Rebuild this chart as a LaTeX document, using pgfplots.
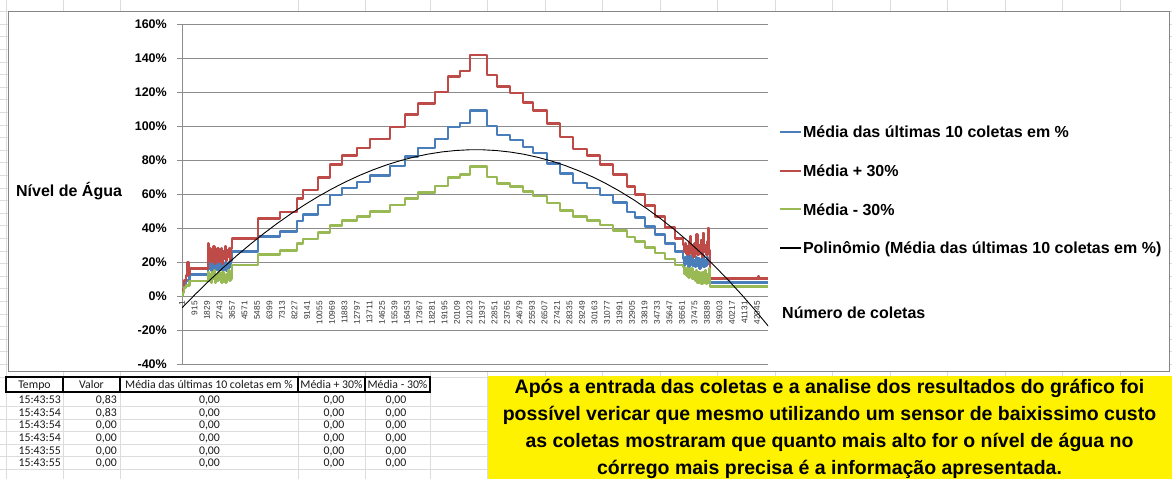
\documentclass[border=0pt]{standalone}
\usepackage{fontspec}
\setmainfont{Liberation Sans}
\newfontfamily\carlito{Carlito}
\usepackage{pgfplots}
\pgfplotsset{compat=1.18}
\usepackage{pgfplotstable}
\definecolor{sBlue}{HTML}{4A7EBB}
\definecolor{sRed}{HTML}{BE4B48}
\definecolor{sGreen}{HTML}{98B954}
\definecolor{gridc}{HTML}{8C8C8C}
\definecolor{sheet}{HTML}{DADCDD}
\definecolor{framec}{HTML}{868686}

\pgfplotstableread{
x y
1 0
80 3
150 7
300 9
560 12.5
1901 21
1970 16
2040 20
2110 15
2180 19
2250 17
2320 21
2390 15
2460 19
2530 16
2600 20
2670 15
2740 19
2810 17
2880 21
2950 15
3020 18
3090 16
3160 20
3230 15
3300 19
3370 16
3440 20
3510 17
3580 21
3656 26
5557 35
7166 38
8409 44
8848 48
9944 53.5
10822 59.4
11699 63.5
12796 67
13747 71
15209 76.5
16306 82
17256 87
18499 92.4
19450 99.4
20327 101.8
21059 109
22302 100
23033 94.7
23983 91.8
24934 87.6
25665 84
26689 78
27639 72
28590 66.5
29614 63.5
30564 59.5
31515 55
32538 49.5
33123 46
33854 41
34586 36
35317 31
36048 26
36633 22
36710 18
36790 23
36870 19
36950 24
37030 17
37110 22
37190 19
37270 24
37350 18
37430 21
37510 17
37590 23
37670 18
37750 22
37830 16
37910 21
37990 18
38070 24
38150 17
38230 21
38310 18
38390 23
38470 19
38540 22
38607 8
40000 8.4
40060 8
42850 8
}\tblue

\pgfplotstableread{
x y
1 0
80 4
150 9
300 12
420 20
470 12.5
560 16.3
1901 31
1960 24
2030 28
2100 20
2170 27
2240 22
2310 29
2380 19
2450 26
2520 23
2590 28
2660 20
2730 27
2800 22
2870 28
2940 19
3010 26
3080 22
3150 29
3220 21
3290 27
3360 23
3430 28
3500 21
3570 28
3656 33.8
5557 45.5
7166 49.4
8409 57.2
8848 62.4
9944 69.6
10822 77.2
11699 82.6
12796 87.1
13747 92.3
15209 99.5
16306 106.6
17256 113.1
18499 120.1
19450 129.2
20327 132.3
21059 141.7
22302 130
23033 123.1
23983 119.3
24934 113.9
25665 109.2
26689 101.4
27639 93.6
28590 86.5
29614 82.6
30564 77.4
31515 71.5
32538 64.4
33123 59.8
33854 53.3
34586 46.8
35317 40.3
36048 33.8
36633 30
36700 26
36780 31
36850 25
36930 29
37000 24
37080 32
37150 35
37220 25
37300 30
37380 23
37460 31
37540 26
37620 36
37700 24
37780 30
37860 25
37940 33
38020 23
38100 37
38180 26
38260 30
38340 24
38420 32
38470 40
38530 27
38607 10.4
42100 10.4
42150 11.8
42200 10.4
42850 10.4
}\tred

\pgfplotstableread{
x y
1 0
80 2
150 5
300 6
560 8.8
1901 14
1975 9
2050 13
2125 8
2200 14
2275 10
2350 15
2425 8
2500 12
2575 9
2650 14
2725 10
2800 13
2875 8
2950 14
3025 9
3100 12
3175 8
3250 13
3325 10
3400 15
3475 9
3550 13
3610 10
3656 18.2
5557 24.5
7166 26.6
8409 30.8
8848 33.6
9944 37.5
10822 41.6
11699 44.5
12796 46.9
13747 49.7
15209 53.6
16306 57.4
17256 60.9
18499 64.7
19450 69.6
20327 71.3
21059 76.3
22302 70
23033 66.3
23983 64.3
24934 61.3
25665 58.8
26689 54.6
27639 50.4
28590 46.6
29614 44.5
30564 41.7
31515 38.5
32538 34.7
33123 32.2
33854 28.7
34586 25.2
35317 21.7
36048 18.2
36633 17
36710 13
36790 16
36870 12
36950 16
37030 11
37110 15
37190 12
37270 16
37350 10
37430 14
37510 9
37590 15
37670 8
37750 14
37830 8
37910 13
37990 7
38070 14
38150 8
38230 15
38310 7
38390 13
38470 8
38540 16
38607 5.6
42850 5.6
}\tgreen

\pgfplotstableread{
x y
1 -7.00
1000 1.22
2000 9.08
3000 16.58
4000 23.71
5000 30.48
6000 36.88
7000 42.90
8000 48.55
9000 53.82
10000 58.70
11000 63.19
12000 67.29
13000 71.00
14000 74.31
15000 77.21
16000 79.71
17000 81.80
18000 83.48
19000 84.74
20000 85.58
21000 86.00
22000 86.00
23000 85.56
24000 84.68
25000 83.38
26000 81.62
27000 79.43
28000 76.79
29000 73.69
30000 70.15
31000 66.14
32000 61.67
33000 56.73
34000 51.33
35000 45.46
36000 39.10
37000 32.27
38000 24.96
39000 17.16
40000 8.86
41000 0.08
42000 -9.20
43000 -18.99
}\tpoly

\begin{document}
\begin{tikzpicture}
\path[use as bounding box] (0pt,0pt) rectangle (1172pt,479pt);
\begin{scope}[x=1pt,y=1pt]
  \fill[white] (0,0) rectangle (1172,479);
  % sheet grid
  \foreach \cx in {6,63,120,298,365,430,487.5,545,602.5,660,717.5,775,832.5,890,947.5,1005,1062.5,1120}
    \draw[sheet, line width=0.6pt] (\cx,0) -- (\cx,479);
  \foreach \k in {1,...,29}
    \draw[sheet, line width=0.6pt] (0,{102+12.6*\k}) -- (1172,{102+12.6*\k});
  \draw[sheet, line width=0.6pt] (0,102) -- (1172,102);
  \foreach \ry in {72.7,60.1,47.5,34.9,22.3,9.7}
    \draw[sheet, line width=0.6pt] (0,\ry) -- (1172,\ry);
  % chart area
  \fill[white] (8.5,107.5) rectangle (1169.5,468);
  \draw[framec, line width=0.8pt] (8.5,107.5) rectangle (1169.5,468);
  % table header
  \fill[white] (6,87) rectangle (430,102);
  \draw[black, line width=1.3pt] (6,87) rectangle (430,102);
  \foreach \cx in {63,120,298,365}
    \draw[black, line width=1.3pt] (\cx,87) -- (\cx,102);
  \begin{scope}[every node/.style={inner sep=0pt, font=\carlito\fontsize{11.8}{13}\selectfont, text=black!90}]
    \node[anchor=base] at (34.5,90.3) {Tempo};
    \node[anchor=base] at (91.5,90.3) {Valor};
    \node[anchor=base] at (209,90.3) {Média das últimas 10 coletas em \%};
    \node[anchor=base] at (331.5,90.3) {Média + 30\%};
    \node[anchor=base] at (397.5,90.3) {Média - 30\%};
    \foreach \yy/\tt/\vv in {75.3/15:43:53/{0,83},62.7/15:43:54/{0,83},50.1/15:43:54/{0,00},37.5/15:43:54/{0,00},24.9/15:43:55/{0,00},12.3/15:43:55/{0,00}} {
      \node[anchor=base east] at (61,\yy) {\tt};
      \node[anchor=base east] at (117,\yy) {\vv};
      \node[anchor=base] at (209.5,\yy) {0,00};
      \node[anchor=base] at (334,\yy) {0,00};
      \node[anchor=base] at (396,\yy) {0,00};
    }
  \end{scope}
  % yellow box
  \fill[yellow] (487.5,0) rectangle (1172,103);
  \begin{scope}[every node/.style={inner sep=0pt, font=\bfseries\fontsize{19.5}{23}\selectfont}]
    \node[anchor=base] at (829.5,85) {Após a entrada das coletas e a analise dos resultados do gráfico foi};
    \node[anchor=base] at (829.5,58) {possível vericar que mesmo utilizando um sensor de baixissimo custo};
    \node[anchor=base] at (829.5,31) {as coletas mostraram que quanto mais alto for o nível de água no};
    \node[anchor=base] at (829.5,5) {córrego mais precisa é a informação apresentada.};
  \end{scope}
\end{scope}

\begin{axis}[
  at={(182pt,115pt)}, anchor=south west,
  scale only axis, width=586pt, height=340pt,
  xmin=1, xmax=42850, ymin=-40, ymax=160,
  axis x line*=middle, axis y line*=left,
  hide obscured x ticks=false, hide obscured y ticks=false,
  scaled x ticks=false, scaled y ticks=false,
  axis line style={gridc, line width=0.9pt},
  ymajorgrids, major grid style={gridc, line width=0.9pt},
  tick align=outside, major tick length=5pt,
  ytick style={gridc, line width=0.9pt},
  xtick style={draw=none},
  ytick={-40,-20,0,20,40,60,80,100,120,140,160},
  yticklabels={-40\%,-20\%,0\%,20\%,40\%,60\%,80\%,100\%,120\%,140\%,160\%},
  yticklabel style={font=\bfseries\fontsize{12.5}{14}\selectfont, inner sep=0pt, anchor=east},
  yticklabel shift=10pt,
  xtick={1,915,1829,2743,3657,4571,5485,6399,7313,8227,9141,10055,10969,11883,12797,13711,14625,15539,16453,17367,18281,19195,20109,21023,21937,22851,23765,24679,25593,26507,27421,28335,29249,30163,31077,31991,32905,33819,34733,35647,36561,37475,38389,39303,40217,41131,42045},
  xticklabels={1,915,1829,2743,3657,4571,5485,6399,7313,8227,9141,10055,10969,11883,12797,13711,14625,15539,16453,17367,18281,19195,20109,21023,21937,22851,23765,24679,25593,26507,27421,28335,29249,30163,31077,31991,32905,33819,34733,35647,36561,37475,38389,39303,40217,41131,42045},
  xticklabel style={font=\fontsize{8.3}{9}\selectfont, rotate=90, anchor=east, inner sep=0pt, text=black!80},
  xticklabel shift=0pt,
  every axis x label/.style={at={(axis description cs:1.0239,0.1332)}, anchor=base west, inner sep=0pt, font=\bfseries\fontsize{16}{19}\selectfont},
  every axis y label/.style={at={(axis description cs:-0.2833,0.4921)}, anchor=base west, inner sep=0pt, font=\bfseries\fontsize{16}{19}\selectfont},
  xlabel={Número de coletas},
  ylabel={Nível de Água},
  legend cell align=left,
  legend style={draw=none, fill=none, at={(axis description cs:1.0188,0.7009)}, anchor=north west,
    inner sep=0pt, outer sep=0pt, row sep=22.7pt, column sep=1pt,
    font=\bfseries\fontsize{16}{19}\selectfont,
    nodes={inner sep=0pt, text height=12pt, text depth=4pt}},
  legend image code/.code={\draw[#1, line width=2pt] (0pt,1.7pt) -- (21pt,1.7pt);},
]
\addplot[const plot, sBlue, line width=2.6pt, line join=round] table {\tblue};
\addlegendentry{Média das últimas 10 coletas em \%}
\addplot[const plot, sRed, line width=2.6pt, line join=round] table {\tred};
\addlegendentry{Média + 30\%}
\addplot[const plot, sGreen, line width=2.6pt, line join=round] table {\tgreen};
\addlegendentry{Média - 30\%}
\addplot[black, line width=0.9pt] table {\tpoly};
\addlegendentry{Polinômio (Média das últimas 10 coletas em \%)}
\end{axis}
\end{tikzpicture}
\end{document}
